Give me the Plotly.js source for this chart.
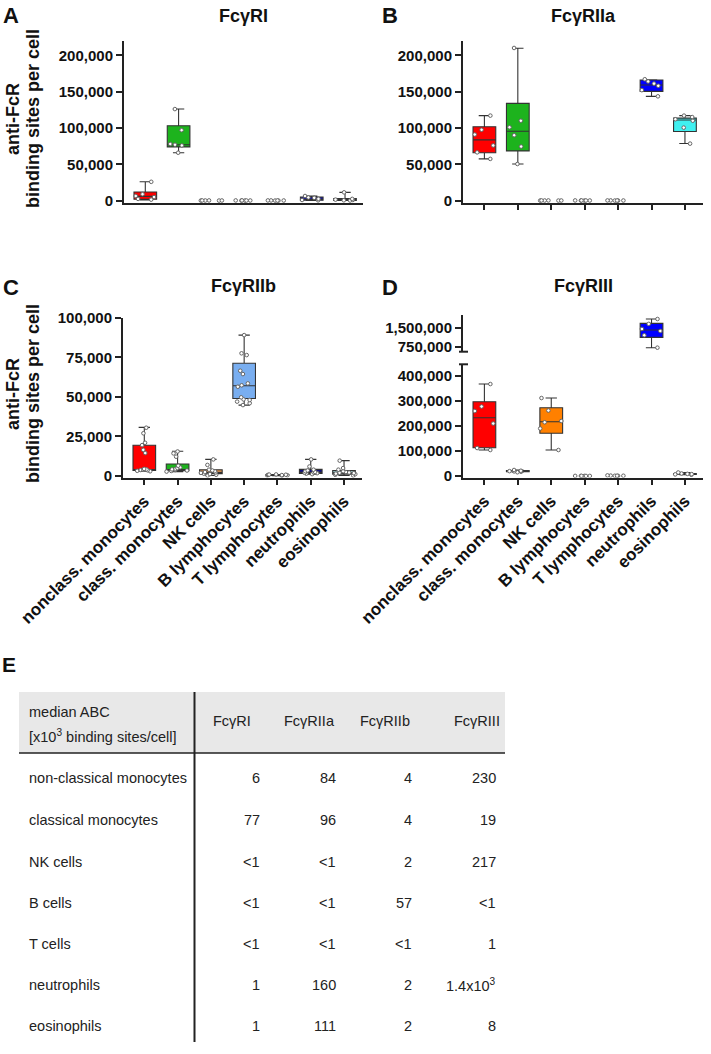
<!DOCTYPE html>
<html>
<head>
<meta charset="utf-8">
<script src="https://cdn.plot.ly/plotly-3.0.1.min.js"></script>
<style>html,body{margin:0;padding:0;background:#fff;}#chart{width:711px;height:1054px;}</style>
</head>
<body>
<div id="chart"></div>
<script>
// ---------- DATA ----------
const categories = ["nonclass. monocytes","class. monocytes","NK cells","B lymphocytes","T lymphocytes","neutrophils","eosinophils"];

// Panel A: FcγRI (individual donors)
const ptsA = [
  [1500, 2500, 5000, 6500, 9000, 26000],
  [66000, 76000, 77000, 78000, 97000, 126000],
  [200, 300, 400, 300, 200, 400],
  [200, 300, 400, 300, 200, 400],
  [200, 300, 400, 300, 200, 400],
  [500, 1000, 2500, 4000, 4500, 6500],
  [300, 600, 1000, 1500, 2500, 11500]
];
const loA  = [1000, 66000, null, null, null, 300, 200];
const q1A  = [2000, 74000, null, null, null, 800, 400];
const medA = [6000, 77000, null, null, null, 1500, 1000];
const q3A  = [12000, 103000, null, null, null, 5000, 3000];
const hiA  = [26000, 126000, null, null, null, 6500, 11500];

// Panel B: FcγRIIa
const ptsB = [
  [57500, 66500, 76000, 91000, 97500, 117000],
  [50500, 74500, 90000, 101000, 110000, 210000],
  [200, 300, 400, 300, 200, 400],
  [200, 300, 400, 300, 200, 400],
  [200, 300, 400, 300, 200, 400],
  [143500, 152000, 158000, 161000, 164000, 167000],
  [78500, 100500, 110000, 112000, 115000, 117000]
];
const loB  = [57500, 50500, null, null, null, 143400, 78600];
const q1B  = [66000, 68500, null, null, null, 150300, 95200];
const medB = [83700, 95600, null, null, null, 159000, 111000];
const q3B  = [101600, 133800, null, null, null, 166000, 113600];
const hiB  = [117000, 209700, null, null, null, 166400, 117000];

// Panel C: FcγRIIb
const ptsC = [
  [3000, 3300, 3600, 3800, 4000, 4200, 4500, 14500, 16500, 19500, 21000, 27000, 30500],
  [2800, 3200, 3500, 3800, 4200, 4500, 5000, 5500, 6500, 12200, 14300, 15500],
  [300, 800, 1200, 1500, 2000, 2200, 2500, 3000, 3500, 4000, 7000, 10500],
  [44800, 46000, 47000, 48000, 48400, 49700, 56400, 57300, 58500, 64400, 66500, 76400, 77500, 89000],
  [200, 400, 500, 600, 700, 800, 900, 1000],
  [1200, 1500, 1800, 2000, 2200, 2500, 3000, 3500, 4000, 6000, 10500],
  [300, 800, 1200, 1500, 1800, 2000, 2200, 2500, 3000, 4000, 5000, 9700]
];
const loC  = [3000, 2800, 300, 44800, 200, 1200, 300];
const q1C  = [3500, 3400, 1500, 49000, 400, 1700, 1200];
const medC = [4000, 4000, 2000, 57000, 600, 2000, 2000];
const q3C  = [19400, 7600, 4000, 71200, 900, 4200, 3500];
const hiC  = [30700, 15600, 10500, 89000, 1000, 10500, 9700];

// Panel D: FcγRIII
const ptsD = [
  [104000, 112000, 210000, 260000, 278000, 368000],
  [15000, 17000, 18500, 19500, 21000, 24000],
  [104000, 190000, 215000, 220000, 262000, 312000],
  [200, 300, 400, 300, 200, 400],
  [500, 800, 1000, 1200, 1500, 2500],
  [711000, 1200000, 1370000, 1450000, 1650000, 1842000],
  [5000, 6500, 7500, 8500, 10000, 14000]
];
const loD  = [104000, 15000, 104000, null, null, 711000, 5000];
const q1D  = [113000, 17500, 171000, null, null, 1118000, 6500];
const medD = [233000, 19000, 217000, null, null, 1408000, 8000];
const q3D  = [297000, 21500, 273000, null, null, 1671000, 10000];
const hiD  = [368000, 24000, 312000, null, null, 1842000, 14000];

// Table E: median ABC [x10^3 binding sites/cell]
const tableRows = ["non-classical monocytes","classical monocytes","NK cells","B cells","T cells","neutrophils","eosinophils"];
const tableCols = ["FcγRI","FcγRIIa","FcγRIIb","FcγRIII"];
const medRI   = ["6","77","&lt;1","&lt;1","&lt;1","1","1"];
const medRIIa = ["84","96","&lt;1","&lt;1","&lt;1","160","111"];
const medRIIb = ["4","4","2","57","&lt;1","2","2"];
const medRIII = ["230","19","217","&lt;1","1","1.4x10<sup>3</sup>","8"];

// ---------- STYLE ----------
const W = 711, H = 1054;
const px = v => v / W;
const py = v => 1 - v / H;
const FONT = 'Liberation Sans, Arial, sans-serif';
const colA = ['#ff0000','#1db31d','#d08a40','#79aef0','#bbbbbb','#0000ff','#8cc8b8'];
const colB = ['#ff0000','#1db31d','#d08a40','#79aef0','#bbbbbb','#0000ff','#40f0f0'];
const colC = ['#ff0000','#1db31d','#c8864a','#79aef0','#bbbbbb','#101080','#8cbcbc'];
const colD = ['#ff0000','#1db31d','#ff8000','#79aef0','#bbbbbb','#0000ff','#40e0e0'];

const traces = [];
function addPanel(xa, yaList, pts, lo, q1, med, q3, hi, cols) {
  for (let i = 0; i < categories.length; i++) {
    if (q1[i] === null) continue;
    traces.push({
      type: 'box', xaxis: xa, yaxis: yaList[i],
      x: [categories[i]],
      lowerfence: [lo[i]], q1: [q1[i]], median: [med[i]], q3: [q3[i]], upperfence: [hi[i]],
      boxpoints: false, width: 0.68, whiskerwidth: 0.5,
      fillcolor: cols[i], line: {color: '#333', width: 1.1},
      hoverinfo: 'skip', showlegend: false
    });
  }
  const groups = {};
  for (let i = 0; i < categories.length; i++) {
    const a = yaList[i];
    if (!groups[a]) groups[a] = {x: [], y: []};
    pts[i].forEach(v => { groups[a].x.push(categories[i]); groups[a].y.push(v); });
  }
  Object.keys(groups).forEach(a => {
    traces.push({
      type: 'box', xaxis: xa, yaxis: a,
      x: groups[a].x, y: groups[a].y,
      boxpoints: 'all', jitter: 1, pointpos: 0, width: 0.68,
      fillcolor: 'rgba(0,0,0,0)', line: {color: 'rgba(0,0,0,0)', width: 0},
      marker: {color: '#ffffff', size: 3.6, line: {color: '#666', width: 1}},
      hoverinfo: 'skip', showlegend: false
    });
  });
}
const same = a => categories.map(() => a);
addPanel('x',  same('y'),  ptsA, loA, q1A, medA, q3A, hiA, colA);
addPanel('x2', same('y2'), ptsB, loB, q1B, medB, q3B, hiB, colB);
addPanel('x3', same('y3'), ptsC, loC, q1C, medC, q3C, hiC, colC);
addPanel('x4', ['y4','y4','y4','y4','y4','y5','y4'], ptsD, loD, q1D, medD, q3D, hiD, colD);

const tickFont = {family: FONT, size: 15, color: '#111', weight: 'bold'};
const xTickFont = {family: FONT, size: 17, color: '#111', weight: 'bold'};
const xRange = [-0.64, 6.54];
function xAxis(dom, anchor, ticks, labels) {
  return {
    domain: dom, anchor: anchor, type: 'category', range: xRange,
    categoryorder: 'array', categoryarray: categories,
    showline: true, linecolor: '#222', linewidth: 2,
    ticks: ticks ? 'outside' : '', ticklen: 5, tickwidth: 2, tickcolor: '#222',
    showticklabels: labels, tickangle: -45, tickfont: xTickFont,
    showgrid: false, zeroline: false, fixedrange: true
  };
}
function yAxis(dom, anchor, range, vals) {
  return {
    domain: dom, anchor: anchor, range: range,
    tickvals: vals, tickformat: ',d',
    showline: true, linecolor: '#222', linewidth: 2,
    ticks: 'outside', ticklen: 6, tickwidth: 2, tickcolor: '#222',
    tickfont: tickFont, showgrid: false, zeroline: false, fixedrange: true
  };
}

const layout = {
  width: W, height: H, margin: {l: 0, r: 0, t: 0, b: 0},
  paper_bgcolor: '#fff', plot_bgcolor: 'rgba(0,0,0,0)',
  boxmode: 'overlay', showlegend: false,
  font: {family: FONT, color: '#111'},
  xaxis:  xAxis([px(124), px(363)], 'y',  false, false),
  yaxis:  yAxis([py(202.9), py(40.7)], 'x', [-3000, 220000], [0, 50000, 100000, 150000, 200000]),
  xaxis2: xAxis([px(463), px(703)], 'y2', true, false),
  yaxis2: yAxis([py(202.9), py(40.7)], 'x2', [-3000, 220000], [0, 50000, 100000, 150000, 200000]),
  xaxis3: xAxis([px(123), px(362)], 'y3', true, true),
  yaxis3: yAxis([py(477.6), py(317.7)], 'x3', [-1000, 100000], [0, 25000, 50000, 75000, 100000]),
  xaxis4: xAxis([px(463), px(703)], 'y4', true, true),
  yaxis4: yAxis([py(477.5), py(364.3)], 'x4', [-6000, 447000], [0, 100000, 200000, 300000, 400000]),
  yaxis5: yAxis([py(351.7), py(315)], 'x4', [553000, 2000000], [750000, 1500000]),
  annotations: [],
  shapes: []
};

const ann = layout.annotations;
function txt(x, y, text, opts) {
  ann.push(Object.assign({
    xref: 'paper', yref: 'paper', x: px(x), y: py(y), text: text,
    showarrow: false, xanchor: 'center', yanchor: 'middle'
  }, opts));
}
const boldF = s => ({family: FONT, size: s, color: '#111', weight: 'bold'});
txt(11, 15, 'A', {font: boldF(22)});
txt(390, 15, 'B', {font: boldF(22)});
txt(11, 288, 'C', {font: boldF(22)});
txt(390, 288, 'D', {font: boldF(22)});
txt(9, 664, 'E', {font: boldF(21)});
txt(243, 16, tableCols[0], {font: boldF(18)});
txt(583, 16, tableCols[1], {font: boldF(18)});
txt(243, 286, tableCols[2], {font: boldF(18)});
txt(583, 286, tableCols[3], {font: boldF(18)});
[119, 394].forEach(cy => {
  txt(13, cy, 'anti-FcR', {font: boldF(18), textangle: -90});
  txt(33, cy, 'binding sites per cell', {font: boldF(18), textangle: -90});
});

// table
const TF = {family: FONT, size: 14.5, color: '#222'};
txt(27, 712, 'median ABC', {font: TF, xanchor: 'left'});
txt(27, 736, '[x10<sup>3</sup> binding sites/cell]', {font: TF, xanchor: 'left'});
const colCenters = [232, 309, 385, 477];
const colRights = [262, 338, 414, 498];
tableCols.forEach((c, j) => txt(colCenters[j], 721, c, {font: TF}));
const rowY = [778, 820, 862, 903, 944, 985, 1026];
const cols = [medRI, medRIIa, medRIIb, medRIII];
tableRows.forEach((r, i) => {
  txt(27, rowY[i], r, {font: TF, xanchor: 'left'});
  cols.forEach((arr, j) => txt(colRights[j], rowY[i], arr[i], {font: TF, xanchor: 'right'}));
});

const sh = layout.shapes;
sh.push({type: 'rect', xref: 'paper', yref: 'paper', x0: px(19), x1: px(505), y0: py(692), y1: py(753), fillcolor: '#e8e8e8', line: {width: 0}, layer: 'below'});
sh.push({type: 'line', xref: 'paper', yref: 'paper', x0: px(19), x1: px(505), y0: py(753), y1: py(753), line: {color: '#222', width: 1.5}});
sh.push({type: 'line', xref: 'paper', yref: 'paper', x0: px(194.5), x1: px(194.5), y0: py(692), y1: py(1042), line: {color: '#222', width: 2}});
sh.push({type: 'line', xref: 'paper', yref: 'paper', x0: px(459), x1: px(468), y0: py(364.3), y1: py(364.3), line: {color: '#222', width: 2}});
sh.push({type: 'line', xref: 'paper', yref: 'paper', x0: px(459), x1: px(468), y0: py(351.7), y1: py(351.7), line: {color: '#222', width: 2}});

Plotly.newPlot('chart', traces, layout, {staticPlot: true, displayModeBar: false});
</script>
</body>
</html>
